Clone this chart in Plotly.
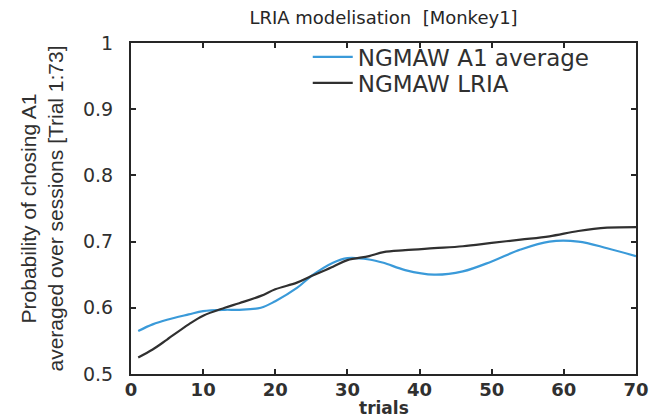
import plotly.graph_objects as go

# Trial indices where the curves are sampled
trials = [1, 3, 5, 8, 10, 13, 15, 18, 20, 23, 25, 28, 30, 33, 35, 38, 42, 46, 50, 54, 58, 62, 66, 70]

# NGMAW A1 average (smoothed behavioural data)
a1_average = [0.565, 0.575, 0.582, 0.590, 0.595, 0.597, 0.597, 0.600, 0.610, 0.630, 0.648,
              0.668, 0.675, 0.673, 0.668, 0.657, 0.650, 0.655, 0.670, 0.688, 0.700, 0.700,
              0.690, 0.678]

# NGMAW LRIA model prediction
lria = [0.525, 0.537, 0.552, 0.575, 0.588, 0.600, 0.607, 0.618, 0.628, 0.638, 0.648,
        0.662, 0.672, 0.678, 0.684, 0.687, 0.690, 0.693, 0.698, 0.703, 0.708, 0.716,
        0.721, 0.722]

x_ticks = [0, 10, 20, 30, 40, 50, 60, 70]
y_ticks = [0.5, 0.6, 0.7, 0.8, 0.9, 1.0]
y_tick_text = ["0.5", "0.6", "0.7", "0.8", "0.9", "1"]

WIDE = "DejaVu Sans, Verdana, sans-serif"
NARROW = "Liberation Sans, Arial, sans-serif"
AXIS_COLOR = "#262626"
TEXT_COLOR = "#303030"

# plot area in pixels
W, H = 667, 419
ML, MR, MT, MB = 131, 31, 43, 45
PW, PH = W - ML - MR, H - MT - MB

fig = go.Figure()
fig.add_trace(go.Scatter(x=trials, y=a1_average, mode="lines", name="NGMAW A1 average",
                         legend="legend",
                         line=dict(color="#3a9ad9", width=2.2, shape="spline", smoothing=1.0)))
fig.add_trace(go.Scatter(x=trials, y=lria, mode="lines", name="NGMAW LRIA",
                         legend="legend2",
                         line=dict(color="#303030", width=2.2, shape="spline", smoothing=1.0)))

axis_common = dict(showgrid=False, zeroline=False, showline=True, mirror="ticks",
                   linecolor=AXIS_COLOR, linewidth=2, ticks="inside", ticklen=5,
                   tickcolor=AXIS_COLOR, tickwidth=1.5)

legend_common = dict(xanchor="left", yanchor="middle", bgcolor="rgba(0,0,0,0)",
                     font=dict(size=23, color=TEXT_COLOR), itemwidth=40)

fig.update_layout(
    width=W, height=H,
    margin=dict(l=ML, r=MR, t=MT, b=MB),
    paper_bgcolor="white", plot_bgcolor="white",
    font=dict(family=WIDE, color=TEXT_COLOR),
    title=dict(text="LRIA modelisation  [Monkey1]", x=(ML + PW / 2) / W, xanchor="center",
               y=1 - 18 / H, yanchor="middle", font=dict(size=18, color="#262626")),
    xaxis=dict(range=[0, 70], tickvals=x_ticks, **axis_common, ticklabelstandoff=-2,
               tickfont=dict(size=18, color=TEXT_COLOR, weight="bold")),
    yaxis=dict(range=[0.5, 1.0], tickvals=y_ticks, ticktext=y_tick_text, **axis_common,
               ticklabelstandoff=12, tickfont=dict(size=19, color=TEXT_COLOR)),
    legend=dict(x=0.35, y=1 - (57 - MT) / PH, **legend_common),
    legend2=dict(x=0.35, y=1 - (83 - MT) / PH, **legend_common),
    showlegend=True,
    annotations=[
        dict(text="Probability of chosing A1<br>averaged over sessions [Trial 1:73]",
             xref="paper", yref="paper", x=(41 - ML) / PW, y=0.5, xanchor="center",
             yanchor="middle", textangle=-90, showarrow=False,
             font=dict(family=NARROW, size=21, color=TEXT_COLOR)),
        dict(text="<b>trials</b>", xref="paper", yref="paper", x=0.5, y=-(408 - (H - MB)) / PH,
             xanchor="center", yanchor="middle", showarrow=False,
             font=dict(family=WIDE, size=17, color=TEXT_COLOR)),
    ],
)

fig.write_html("out.html")
